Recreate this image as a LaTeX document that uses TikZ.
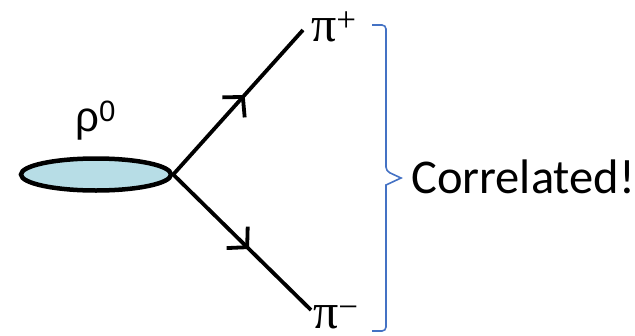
\documentclass[tikz,border=0pt]{standalone}
\usepackage{fontspec}
\setmainfont{Liberation Serif}
\newfontfamily\greeksans{Liberation Sans}
\newfontfamily\notefont{Carlito}
\usetikzlibrary{positioning,arrows.meta,shapes.geometric,decorations.markings}
\definecolor{paleblue}{HTML}{B7DDE6}
\definecolor{braceblue}{HTML}{4472C4}
\tikzset{meson/.style={ellipse,draw=black,line width=4.5pt,fill=paleblue,minimum width=150pt,minimum height=32pt,inner sep=0pt},
         pion/.style={line width=3.8pt,postaction={decorate},
           decoration={markings,mark=at position 0.55 with {\arrow{Straight Barb[length=14pt,width=30pt,line width=3.8pt]}}}},
         plabel/.style={anchor=base west,inner sep=0pt,font=\fontsize{50}{54}\selectfont},
         brace/.style={draw=braceblue,line width=1.6pt},
         note/.style={anchor=base west,inner sep=0pt,font=\notefont\fontsize{48.5}{52}\selectfont}}

\begin{document}
\begin{tikzpicture}[x=1pt,y=-1pt]
 \useasboundingbox (0,0) rectangle (635,335);
 \node[meson] (rho) at (96,174.5) {};
 \node[plabel,font=\greeksans\fontsize{42}{46}\selectfont] (rl) at (75,131) {ρ\textsuperscript{0}};
 \coordinate (up) at (303,30);
 \coordinate (dn) at (311,310);
 \draw[pion] (rho.east) -- (up);
 \draw[pion] (rho.east) -- (dn);
 \node[plabel] (pp) at (311,41) {π\textsuperscript{+}};
 \node[plabel] (pm) at (313,328) {π\textsuperscript{−}};
 \draw[brace] (372,25) [rounded corners=4pt]-- (386,25) -- (386,171) [sharp corners]-- (401,178) -- (386,185) [rounded corners=4pt]-- (386,331) -- (372,331);
 \node[note] (cor) at (411,193) {Correlated!};
\end{tikzpicture}
\end{document}
